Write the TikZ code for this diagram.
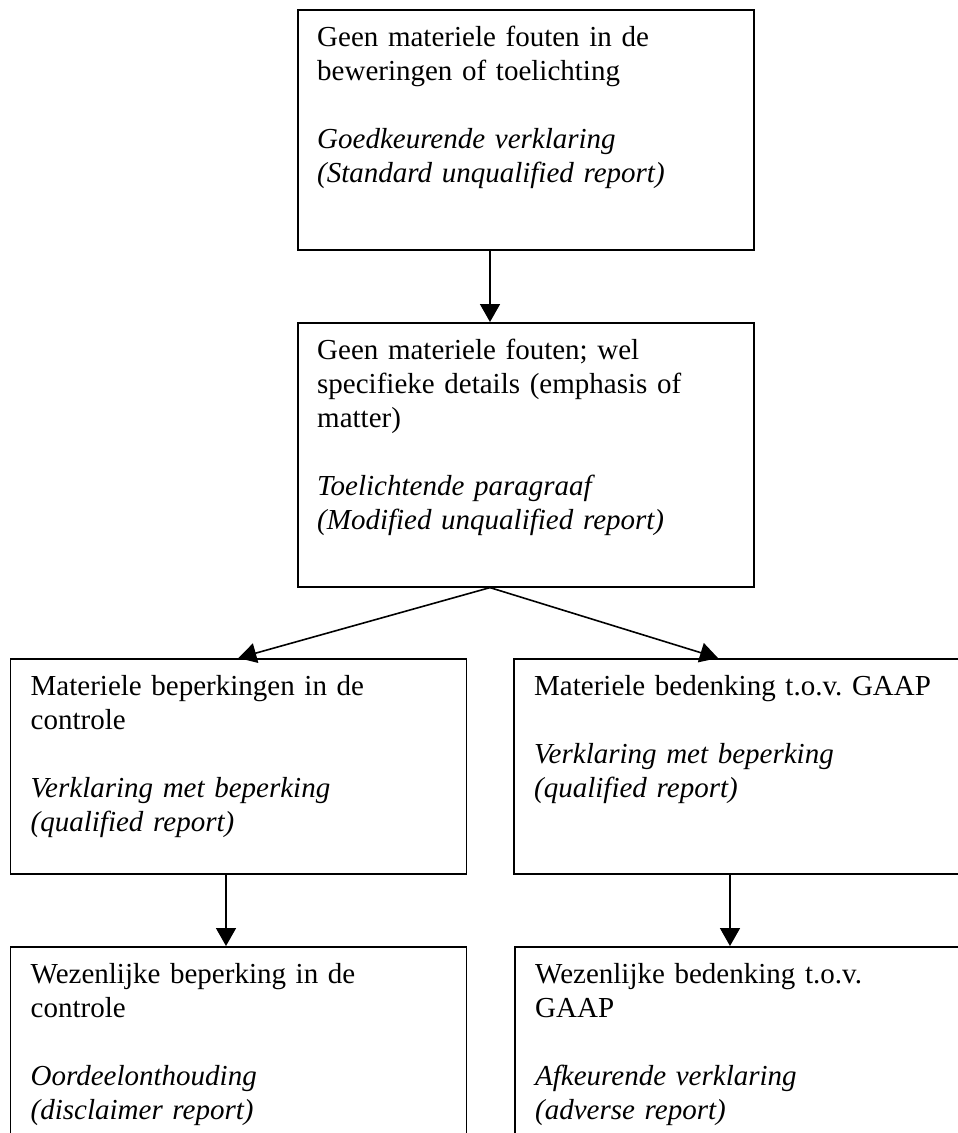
\documentclass[tikz,border=0pt]{standalone}
\usepackage{fontspec}
\setmainfont{Liberation Serif}
\usetikzlibrary{arrows.meta}
\frenchspacing
\begin{document}
\begin{tikzpicture}[x=1pt,y=-1pt,
  box/.style={draw=black, line width=1.6pt, minimum width=456pt, anchor=north west, inner sep=0pt},
  txt/.style={anchor=base west, inner sep=0pt, text width=425pt, align=left,
              font=\fontsize{29}{34}\selectfont},
  arr/.style={line width=1.6pt, -{Triangle[length=18pt,width=20pt]}}]
\useasboundingbox (0,0) rectangle (958,1133);
\clip (0,0) rectangle (958,1133);

% boxes
\node[box, minimum height=240pt] (b1) at (297,9) {};
\node[box, minimum height=264pt] (b2) at (297,322) {};
\node[box, minimum height=215pt] (b3) at (9.5,658) {};
\node[box, minimum height=215pt] (b4) at (513,658) {};
\node[box, minimum height=240pt] (b5) at (9.5,946) {};
\node[box, minimum height=240pt] (b6) at (514,946) {};

% texts
\node[txt] (t1) at ([shift={(20,37)}]b1.north west)
  {Geen materiele fouten in de\\ beweringen of toelichting\\[34pt]
   {\itshape Goedkeurende verklaring\\ (Standard unqualified report)}};
\node[txt] (t2) at ([shift={(20,37)}]b2.north west)
  {Geen materiele fouten; wel\\ specifieke details (emphasis of\\ matter)\\[34pt]
   {\itshape Toelichtende paragraaf\\ (Modified unqualified report)}};
\node[txt] (t3) at ([shift={(21,37)}]b3.north west)
  {Materiele beperkingen in de\\ controle\\[34pt]
   {\itshape Verklaring met beperking\\ (qualified report)}};
\node[txt] (t4) at ([shift={(21,37)}]b4.north west)
  {Materiele bedenking t.o.v. GAAP\\[34pt]
   {\itshape Verklaring met beperking\\ (qualified report)}};
\node[txt] (t5) at ([shift={(21,37)}]b5.north west)
  {Wezenlijke beperking in de\\ controle\\[34pt]
   {\itshape Oordeelonthouding\\ (disclaimer report)}};
\node[txt] (t6) at ([shift={(21,37)}]b6.north west)
  {Wezenlijke bedenking t.o.v.\\ GAAP\\[34pt]
   {\itshape Afkeurende verklaring\\ (adverse report)}};

% connector columns
\coordinate (c1) at (490,0);
\coordinate (c2) at (718,0);
\coordinate (c3) at (226,0);
\coordinate (c4) at (730,0);

% connectors
\draw[arr] (b1.south -| c1) -- (b2.north -| c1);
\draw[arr] (b2.south -| c1) -- (b3.north);
\draw[arr] (b2.south -| c1) -- (b4.north -| c2);
\draw[arr] (b3.south -| c3) -- (b5.north -| c3);
\draw[arr] (b4.south -| c4) -- (b6.north -| c4);
\end{tikzpicture}
\end{document}
